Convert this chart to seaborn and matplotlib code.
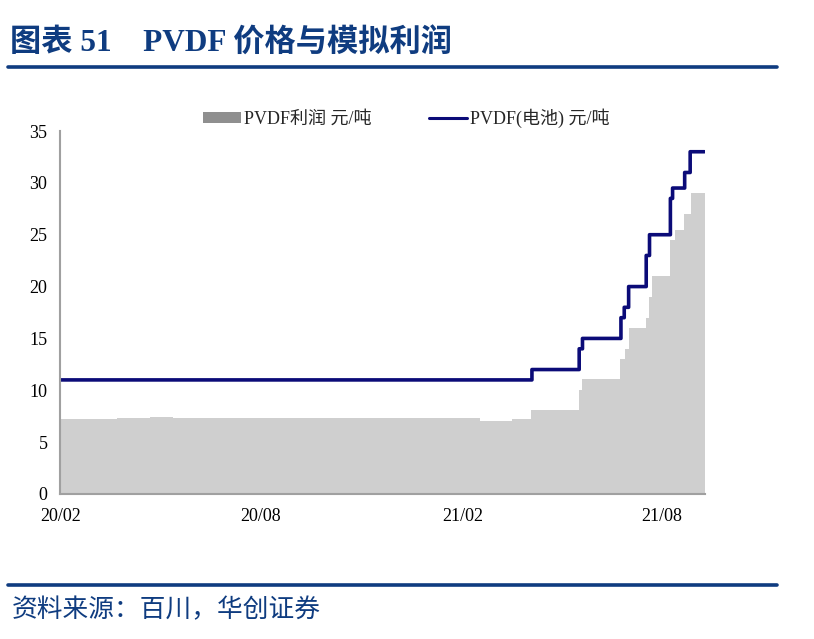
import numpy as np
import pandas as pd
import matplotlib
matplotlib.use('Agg')
import matplotlib.pyplot as plt
import matplotlib.dates as mdates
from matplotlib.patches import Patch
from matplotlib.lines import Line2D
import seaborn as sns

# ---------------- data ----------------
# PVDF(电池) price: date on which each price level starts, and the level
price_change_dates = ['2020-02-01', '2021-04-05', '2021-05-18', '2021-05-21',
                      '2021-06-25', '2021-06-28', '2021-07-02', '2021-07-18',
                      '2021-07-21', '2021-08-09', '2021-08-11', '2021-08-22',
                      '2021-08-27']
price_levels = [11, 12, 14, 15, 17, 18, 20, 23, 25, 28.5, 29.5, 31, 33]

# PVDF simulated profit: date on which each level starts, and the level
profit_change_dates = ['2020-02-01', '2020-03-24', '2020-04-23', '2020-05-14',
                       '2020-10-21', '2021-02-17', '2021-03-18', '2021-04-05',
                       '2021-05-18', '2021-05-21', '2021-06-25', '2021-06-29',
                       '2021-07-03', '2021-07-18', '2021-07-21', '2021-07-24',
                       '2021-08-09', '2021-08-14', '2021-08-22', '2021-08-28']
profit_levels = [7.2, 7.3, 7.45, 7.35, 7.3, 7.0, 7.2, 8.1, 10.0, 11.1, 13.0,
                 14.0, 16.0, 17.0, 19.0, 21.0, 24.5, 25.5, 27.0, 29.0]

start_date = '2020-02-01'
end_date = '2021-09-09'

x_tick_dates = ['2020-02-01', '2020-08-01', '2021-02-01', '2021-08-01']
x_tick_labels = ['20/02', '20/08', '21/02', '21/08']
y_ticks = [0, 5, 10, 15, 20, 25, 30, 35]

series_bar_name = 'PVDF利润 元/吨'
series_line_name = 'PVDF(电池) 元/吨'
title_text = '图表 51    PVDF 价格与模拟利润'
source_text = '资料来源：百川，华创证券'

# ---------------- build daily table from the level changes ----------------
days = pd.date_range(start_date, end_date, freq='D')
price = pd.Series(price_levels, index=pd.to_datetime(price_change_dates)).reindex(days, method='ffill')
profit = pd.Series(profit_levels, index=pd.to_datetime(profit_change_dates)).reindex(days, method='ffill')
df = pd.DataFrame({'x': mdates.date2num(days), 'price': price.values, 'profit': profit.values})

# ---------------- style ----------------
sns.set_style('white')
plt.rcParams['font.family'] = ['Liberation Serif', 'Noto Sans CJK SC']
plt.rcParams['axes.unicode_minus'] = False

W, H = 814, 639
fig = plt.figure(figsize=(W / 100, H / 100), dpi=100)
ax = fig.add_axes([60 / W, 1 - 494 / H, (705 - 60) / W, (494 - 131) / H])

BAR_C = '#cfcfcf'
LINE_C = '#0b0b78'
BLUE = '#0f3c80'
AX_C = '#a0a0a0'

sns.barplot(data=df, x='x', y='profit', native_scale=True, color=BAR_C,
            saturation=1, width=1.0, errorbar=None, linewidth=0, ax=ax)
sns.lineplot(data=df, x='x', y='price', drawstyle='steps-post', color=LINE_C,
             linewidth=2.6, estimator=None, ax=ax)

ax.set_xlim(df['x'].iloc[0] - 0.5, df['x'].iloc[-1] + 0.5)
ax.set_ylim(0, 35)
ax.set_yticks(y_ticks)
ax.set_yticklabels([str(v) for v in y_ticks])
ax.set_xticks(mdates.date2num(pd.to_datetime(x_tick_dates)))
ax.set_xticklabels(x_tick_labels)
ax.set_xlabel('')
ax.set_ylabel('')

for s in ['top', 'right']:
    ax.spines[s].set_visible(False)
for s in ['left', 'bottom']:
    ax.spines[s].set_color(AX_C)
    ax.spines[s].set_linewidth(1.5)
ax.tick_params(axis='both', direction='in', length=4, width=1, color=AX_C,
               labelsize=13, labelcolor='black')
ax.tick_params(axis='y', pad=9)
ax.tick_params(axis='x', pad=10)

handles = [Patch(facecolor='#8f8f8f', edgecolor='none'),
           Line2D([0], [0], color=LINE_C, lw=2.2)]
fig.legend(handles, [series_bar_name, series_line_name], loc='center',
           bbox_to_anchor=(0.499, 1 - 118 / H), ncol=2, frameon=False,
           fontsize=13, handlelength=2.1, handleheight=0.6,
           handletextpad=0.15, columnspacing=3.2)

# title and framing lines
fig.text(10 / W, 1 - 44 / H, title_text, fontsize=22.5, fontweight='bold',
         color=BLUE, ha='left', va='center')
fig.add_artist(Line2D([8 / W, 777 / W], [1 - 67 / H, 1 - 67 / H],
                      transform=fig.transFigure, color=BLUE, lw=2.6))
fig.add_artist(Line2D([8 / W, 777 / W], [1 - 585 / H, 1 - 585 / H],
                      transform=fig.transFigure, color=BLUE, lw=2.6))
fig.text(12 / W, 1 - 610 / H, source_text, fontsize=18.5, style='italic',
         color=BLUE, ha='left', va='center')

fig.savefig('out.png', dpi=100)
